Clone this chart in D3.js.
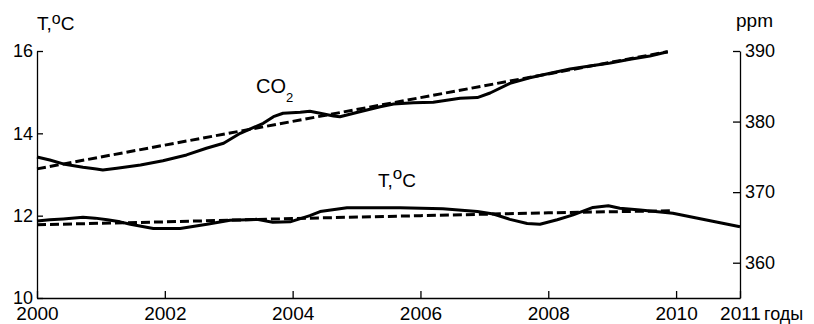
<!DOCTYPE html>
<html>
<head>
<meta charset="utf-8">
<script src="https://cdn.jsdelivr.net/npm/d3@7"></script>
<style>
  body { margin: 0; background: #fff; }
  svg { display: block; font-family: "Liberation Sans", Arial, sans-serif; }
  .axis path, .axis line { stroke: #000; stroke-width: 1.3; }
  .axis text { font-size: 18px; fill: #000; }
</style>
</head>
<body>
<svg id="chart" width="814" height="324"></svg>
<script>
// CO2, ppm (right axis)
var co2Years = [2000.00, 2000.20, 2000.41, 2000.72, 2000.93, 2001.03, 2001.25, 2001.62, 2001.97,
    2002.34, 2002.65, 2002.92, 2003.18, 2003.54, 2003.70, 2003.85, 2004.12, 2004.27, 2004.43,
    2004.64, 2004.74, 2005.05, 2005.37, 2005.58, 2005.89, 2006.20, 2006.62, 2006.89, 2007.09,
    2007.40, 2007.71, 2008.03, 2008.34, 2008.65, 2008.97, 2009.28, 2009.59, 2009.87];
var co2Values = [374.99, 374.56, 374.00, 373.53, 373.29, 373.14, 373.39, 373.85, 374.46,
    375.27, 376.22, 376.93, 378.34, 379.76, 380.69, 381.18, 381.32, 381.46, 381.18,
    380.79, 380.69, 381.40, 382.11, 382.49, 382.68, 382.73, 383.30, 383.40, 384.05,
    385.42, 386.20, 386.84, 387.45, 387.88, 388.30, 388.82, 389.30, 389.90];
var co2TrendYears = [2000, 2009.87];
var co2TrendValues = [373.3, 389.9];

// temperature, deg C (left axis)
var tempYears = [2000.00, 2000.20, 2000.41, 2000.72, 2000.91, 2001.10, 2001.30, 2001.46, 2001.82,
    2002.24, 2002.66, 2003.02, 2003.44, 2003.69, 2003.96, 2004.27, 2004.43, 2004.85, 2005.68,
    2006.35, 2006.89, 2007.14, 2007.40, 2007.67, 2007.87, 2008.14, 2008.39, 2008.70, 2008.94,
    2009.12, 2009.44, 2009.95, 2011.00];
var tempValues = [11.87, 11.90, 11.92, 11.96, 11.94, 11.90, 11.85, 11.79, 11.69,
    11.69, 11.79, 11.89, 11.91, 11.84, 11.85, 12.00, 12.10, 12.19, 12.19,
    12.17, 12.10, 12.04, 11.91, 11.81, 11.79, 11.90, 12.02, 12.20, 12.24,
    12.18, 12.14, 12.06, 11.73];
var tempTrendYears = [2000, 2002, 2004, 2006, 2008, 2009.95];
var tempTrendValues = [11.78, 11.85, 11.93, 12.00, 12.07, 12.12];

var yearTicks = [2000, 2002, 2004, 2006, 2008, 2010, 2011];
var tempTicks = [10, 12, 14, 16];
var ppmTicks = [360, 370, 380, 390];

var svg = d3.select('#chart');
var plotLeft = 37, plotRight = 740, plotTop = 51, plotBottom = 298;

var x = d3.scaleLinear().domain([2000, 2011]).range([plotLeft, plotRight]);
var yT = d3.scaleLinear().domain([10, 16]).range([plotBottom, plotTop]);
var yC = d3.scaleLinear().domain([355, 390]).range([plotBottom, plotTop]);

svg.append('g')
    .attr('class', 'axis')
    .attr('transform', 'translate(0,' + plotBottom + ')')
    .call(d3.axisBottom(x).tickValues(yearTicks).tickFormat(d3.format('d'))
        .tickSize(-7).tickSizeOuter(0).tickPadding(9))
    .selectAll('text').style('font-size', '19px');

svg.append('g')
    .attr('class', 'axis')
    .attr('transform', 'translate(' + plotLeft + ',0)')
    .call(d3.axisLeft(yT).tickValues(tempTicks).tickFormat(d3.format('d'))
        .tickSize(-6).tickSizeOuter(0).tickPadding(4));

svg.append('g')
    .attr('class', 'axis')
    .attr('transform', 'translate(' + plotRight + ',0)')
    .call(d3.axisRight(yC).tickValues(ppmTicks).tickFormat(d3.format('d'))
        .tickSize(-7).tickSizeOuter(0).tickPadding(5));

function makeLine(xs, ys, yScale) {
    return d3.line()
        .x(function(d, i) { return x(xs[i]); })
        .y(function(d, i) { return yScale(ys[i]); })(xs);
}

var series = [
    {xs: co2TrendYears, ys: co2TrendValues, y: yC, dash: '9,4'},
    {xs: co2Years, ys: co2Values, y: yC, dash: null},
    {xs: tempTrendYears, ys: tempTrendValues, y: yT, dash: '9,4'},
    {xs: tempYears, ys: tempValues, y: yT, dash: null}
];

svg.selectAll('path.series')
    .data(series)
  .enter().append('path')
    .classed('series', true)
    .attr('d', function(s) { return makeLine(s.xs, s.ys, s.y); })
    .attr('fill', 'none')
    .attr('stroke', '#000')
    .attr('stroke-width', 3)
    .attr('stroke-linejoin', 'round')
    .attr('stroke-dasharray', function(s) { return s.dash; });

// axis titles
var tTitle = svg.append('text').attr('x', 37).attr('y', 30).style('font-size', '19px');
tTitle.append('tspan').text('T,');
tTitle.append('tspan').attr('dy', -6).style('font-size', '16px').text('o');
tTitle.append('tspan').attr('dy', 6).text('C');

svg.append('text').attr('x', 736).attr('y', 27).style('font-size', '19px').text('ppm');

svg.append('text').attr('x', 764).attr('y', 320).style('font-size', '18px').text('годы');

// series labels
var co2Label = svg.append('text').attr('x', 256).attr('y', 93).style('font-size', '20px');
co2Label.append('tspan').text('CO');
co2Label.append('tspan').attr('dy', 9).style('font-size', '13px').text('2');

var tLabel = svg.append('text').attr('x', 378).attr('y', 187).style('font-size', '19px');
tLabel.append('tspan').text('T,');
tLabel.append('tspan').attr('dy', -8).style('font-size', '17px').text('o');
tLabel.append('tspan').attr('dy', 8).text('C');
</script>
</body>
</html>
